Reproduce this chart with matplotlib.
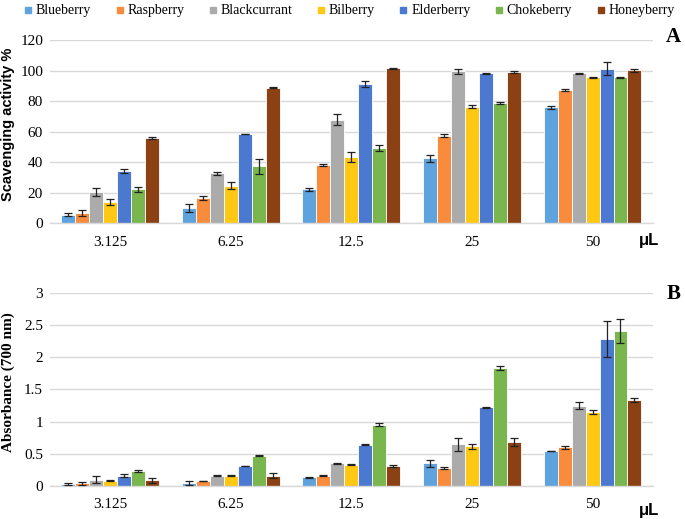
import numpy as np
import matplotlib
matplotlib.use("Agg")
import matplotlib.pyplot as plt
from matplotlib.lines import Line2D

# ---- data ----
volumes = ["3.125", "6.25", "12.5", "25", "50"]
berries = ["Blueberry", "Raspberry", "Blackcurrant", "Bilberry",
           "Elderberry", "Chokeberry", "Honeyberry"]
colors = ["#5FA3DE", "#F98B3C", "#ABABAB", "#FFC812",
          "#4A79CF", "#79B74E", "#8B4113"]

# panel A: scavenging activity % (rows = berries, cols = volumes)
scav = [
    [5.5, 9.9, 22.1, 42.5, 76.0],
    [6.6, 16.4, 38.1, 57.4, 87.2],
    [20.4, 32.8, 67.9, 99.6, 98.3],
    [13.8, 24.7, 43.4, 76.4, 95.7],
    [34.2, 58.5, 91.5, 98.3, 101.4],
    [22.1, 37.4, 49.5, 79.0, 95.7],
    [56.0, 88.9, 101.6, 99.2, 100.3],
]
scav_err = [
    [1.0, 2.5, 1.0, 2.5, 1.0],
    [2.0, 1.5, 0.4, 1.0, 0.7],
    [2.5, 1.0, 3.5, 1.5, 0.5],
    [2.0, 2.5, 3.0, 1.0, 0.3],
    [1.5, 0.3, 2.0, 0.3, 4.0],
    [1.5, 5.0, 2.0, 0.7, 0.2],
    [0.7, 0.3, 0.3, 0.7, 1.0],
]

# panel B: absorbance at 700 nm
absb = [
    [0.03, 0.05, 0.135, 0.35, 0.545],
    [0.04, 0.08, 0.16, 0.28, 0.60],
    [0.10, 0.16, 0.35, 0.65, 1.25],
    [0.08, 0.16, 0.33, 0.62, 1.15],
    [0.16, 0.31, 0.64, 1.22, 2.29],
    [0.23, 0.47, 0.955, 1.84, 2.41],
    [0.09, 0.16, 0.31, 0.685, 1.33],
]
absb_err = [
    [0.01, 0.03, 0.01, 0.06, 0.005],
    [0.02, 0.005, 0.01, 0.02, 0.02],
    [0.05, 0.01, 0.01, 0.10, 0.06],
    [0.01, 0.005, 0.01, 0.04, 0.03],
    [0.02, 0.005, 0.005, 0.01, 0.28],
    [0.02, 0.005, 0.02, 0.03, 0.19],
    [0.04, 0.04, 0.02, 0.06, 0.03],
]

serif = "Liberation Serif"
sans = "Liberation Sans"

fig = plt.figure(figsize=(6.85, 5.19), dpi=100)
axA = fig.add_axes([0.073, 0.570, 0.880, 0.3526])
axB = fig.add_axes([0.073, 0.0636, 0.880, 0.372])

x = np.arange(len(volumes))
width = 0.116


def draw_panel(ax, vals, errs, ymax, ystep, yfmt):
    for i, name in enumerate(berries):
        offs = (i - 3) * width
        ax.bar(x + offs, vals[i], width, color=colors[i], edgecolor="white",
               linewidth=0.6, zorder=2, label=name)
        ax.errorbar(x + offs, vals[i], yerr=errs[i], fmt="none",
                    ecolor="#222222", elinewidth=0.9, capsize=2.6,
                    capthick=0.9, zorder=3)
    ax.set_xlim(-0.5, len(volumes) - 0.5)
    ax.set_ylim(0, ymax)
    ticks = np.arange(0, ymax + ystep / 2, ystep)
    ax.set_yticks(ticks)
    ax.set_yticklabels([yfmt(t) for t in ticks], fontfamily=serif, fontsize=11)
    ax.set_xticks(x)
    ax.set_xticklabels(volumes, fontfamily=serif, fontsize=11)
    ax.tick_params(axis="both", length=0)
    ax.tick_params(axis="x", pad=9)
    ax.tick_params(axis="y", pad=5)
    ax.grid(axis="y", color="#D9D9D9", linewidth=1.0, zorder=0)
    for s in ["top", "right", "left"]:
        ax.spines[s].set_visible(False)
    ax.spines["bottom"].set_color("#D9D9D9")
    ax.spines["bottom"].set_linewidth(1.0)


draw_panel(axA, scav, scav_err, 120, 20, lambda t: "%d" % t)
draw_panel(axB, absb, absb_err, 3, 0.5, lambda t: ("%g" % t))

axA.set_ylabel("Scavenging activity %", fontfamily=sans, fontweight="bold",
               fontsize=10.5)
axA.yaxis.set_label_coords(-0.058, 0.54)
axB.set_ylabel("Absorbance (700 nm)", fontfamily=serif, fontweight="bold",
               fontsize=11)
axB.yaxis.set_label_coords(-0.058, 0.54)

fig.text(0.983, 0.928, "A", fontfamily=serif, fontweight="bold", fontsize=15,
         ha="center", va="center")
fig.text(0.983, 0.434, "B", fontfamily=serif, fontweight="bold", fontsize=15,
         ha="center", va="center")
fig.text(0.947, 0.537, "μL", fontfamily=sans, fontweight="bold", fontsize=12,
         ha="center", va="center")
fig.text(0.947, 0.016, "μL", fontfamily=sans, fontweight="bold", fontsize=12,
         ha="center", va="center")

handles = [Line2D([], [], marker="s", linestyle="none", markersize=5,
                  markerfacecolor=c, markeredgecolor=c) for c in colors]
fig.legend(handles, berries, loc="center", bbox_to_anchor=(0.508, 0.979),
           ncol=7, frameon=False, prop={"family": serif, "size": 10},
           handletextpad=0.05, columnspacing=1.55, handlelength=1.0)

fig.savefig("out.png", dpi=100)
